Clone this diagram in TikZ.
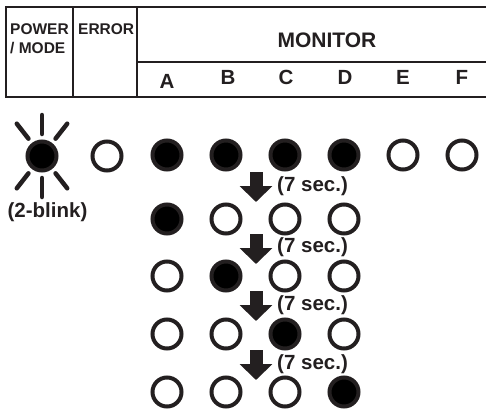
\documentclass[tikz,border=0pt]{standalone}
\usepackage{fontspec}
\setmainfont{Liberation Sans}
\usetikzlibrary{arrows.meta}
\definecolor{ink}{RGB}{35,31,32}

\begin{document}
\begin{tikzpicture}[x=1pt,y=-1pt,
  lbl/.style={font=\bfseries\fontsize{20.5}{24}\selectfont,text=ink,inner sep=0pt},
  hdr/.style={font=\bfseries\fontsize{15.5}{19}\selectfont,text=ink,inner sep=0pt,align=left},
  rule/.style={draw=ink,line width=2.5pt},
  ledon/.style={circle,draw=ink,fill=black,line width=4pt,minimum size=29pt,inner sep=0pt},
  ledoff/.style={ledon,fill=white},
  ray/.style={ink,line width=4.5pt,line cap=round},
  arr/.style={ink,line width=13pt,-{Triangle[length=16pt,width=32pt]}}]
  \useasboundingbox (0,0) rectangle (486,412);
  % header table
  \draw[rule] (6,7) rectangle (492,97);
  \draw[rule] (73,7) -- (73,97) (137,7) -- (137,97) (137,62) -- (492,62);
  \node[hdr,anchor=north west] (pwrhd) at (10,23) {POWER\\/ MODE};
  \node[hdr,anchor=north west] (errhd) at (78,23) {ERROR};
  \node[lbl,font=\bfseries\fontsize{21}{24}\selectfont] (mon) at (327,40) {MONITOR};
  \node[lbl] (hA) at (167,81) {A}; \node[lbl] (hB) at (228,77) {B};
  \node[lbl] (hC) at (286,77) {C}; \node[lbl] (hD) at (345,77) {D};
  \node[lbl] (hE) at (403,77) {E}; \node[lbl] (hF) at (462,77) {F};
  % first row
  \node[ledon]  (pwr) at (42,156) {};
  \node[ledoff] (err) at (107,156) {};
  \node[ledon]  (a1) at (167,155) {}; \node[ledon]  (b1) at (226,155) {};
  \node[ledon]  (c1) at (285,155) {}; \node[ledon]  (d1) at (344,155) {};
  \node[ledoff] (e1) at (403,155) {}; \node[ledoff] (f1) at (462,155) {};
  \draw[ray] (pwr.center) ++(52:22) -- ++(52:19);
  \draw[ray] (pwr.center) ++(90:22) -- ++(90:19);
  \draw[ray] (pwr.center) ++(128:22) -- ++(128:19);
  \draw[ray] (pwr.center) ++(232:22) -- ++(232:19);
  \draw[ray] (pwr.center) ++(270:22) -- ++(270:19);
  \draw[ray] (pwr.center) ++(308:22) -- ++(308:19);
  \node[lbl] (blink) at (47.5,212) {(2-blink)};
  % scan sequence
  \node[ledon]  (a2) at (167,219) {}; \node[ledoff] (b2) at (226,219) {};
  \node[ledoff] (c2) at (285,219) {}; \node[ledoff] (d2) at (344,219) {};
  \node[ledoff] (a3) at (167,276) {}; \node[ledon]  (b3) at (226,276) {};
  \node[ledoff] (c3) at (285,276) {}; \node[ledoff] (d3) at (344,276) {};
  \node[ledoff] (a4) at (167,334) {}; \node[ledoff] (b4) at (226,334) {};
  \node[ledon]  (c4) at (285,334) {}; \node[ledoff] (d4) at (344,334) {};
  \node[ledoff] (a5) at (167,392) {}; \node[ledoff] (b5) at (226,392) {};
  \node[ledoff] (c5) at (285,392) {}; \node[ledon]  (d5) at (344,392) {};
  \coordinate (s1) at (256,172); \coordinate (t1) at (256,202);
  \coordinate (s2) at (256,234); \coordinate (t2) at (256,264);
  \coordinate (s3) at (256,291); \coordinate (t3) at (256,321);
  \coordinate (s4) at (256,350); \coordinate (t4) at (256,380);
  \draw[arr] (s1)--(t1); \draw[arr] (s2)--(t2);
  \draw[arr] (s3)--(t3); \draw[arr] (s4)--(t4);
  \node[lbl,anchor=west] (w1) at (277,186) {(7 sec.)};
  \node[lbl,anchor=west] (w2) at (277,247) {(7 sec.)};
  \node[lbl,anchor=west] (w3) at (277,305) {(7 sec.)};
  \node[lbl,anchor=west] (w4) at (277,364) {(7 sec.)};
\end{tikzpicture}
\end{document}
